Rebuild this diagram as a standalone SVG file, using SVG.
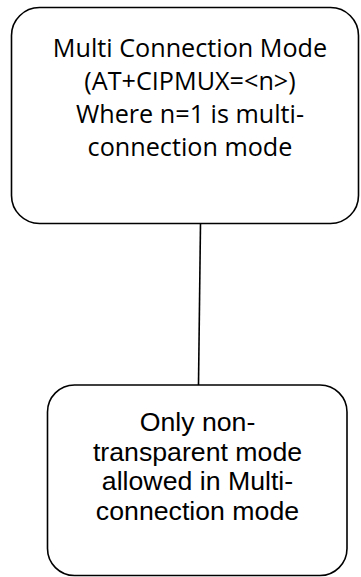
<svg xmlns="http://www.w3.org/2000/svg" width="361" height="577" viewBox="0 0 361 577">
  <style>
    .box { fill: #ffffff; stroke: #000000; stroke-width: 1.6; }
    .edge { stroke: #000000; stroke-width: 1.6; fill: none; }
    .t1 { font-family: "Open Sans", "Liberation Sans", sans-serif; font-size: 25.2px; fill: #000000; text-anchor: middle; }
    .t2 { font-family: "Liberation Sans", Arial, sans-serif; font-size: 26.7px; fill: #000000; text-anchor: middle; }
  </style>
  <rect width="361" height="577" fill="#ffffff"/>
  <g id="connectors">
    <line class="edge" x1="200.5" y1="223" x2="198.5" y2="385"/>
  </g>
  <g id="multi-connection-mode">
    <rect class="box" x="11.5" y="7.5" width="347" height="216" rx="28" ry="28"/>
    <text class="t1" x="190" y="57">Multi Connection Mode</text>
    <text class="t1" x="190" y="90">(AT+CIPMUX=&lt;n&gt;)</text>
    <text class="t1" x="190" y="123">Where n=1 is multi-</text>
    <text class="t1" x="190" y="156">connection mode</text>
  </g>
  <g id="non-transparent-only">
    <rect class="box" x="47.5" y="385" width="299.5" height="190.5" rx="27" ry="27"/>
    <text class="t2" x="197.5" y="431">Only non-</text>
    <text class="t2" x="197.5" y="460.5">transparent mode</text>
    <text class="t2" x="197.5" y="490">allowed in Multi-</text>
    <text class="t2" x="197.5" y="519.5">connection mode</text>
  </g>
</svg>
